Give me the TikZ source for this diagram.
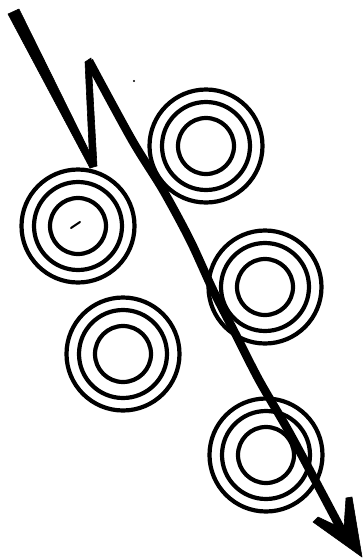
\documentclass[tikz,border=0pt]{standalone}
\begin{document}
\begin{tikzpicture}[x=1pt,y=-1pt,
  ring/.style={circle,draw=black,line width=4.2pt,inner sep=0pt,fill=none},
  bolt/.style={fill=black,draw=black,line width=0.6pt,line join=round}]
\useasboundingbox[fill=white] (0,0) rectangle (364,558);
% concentric rings
\foreach \n/\x/\y in {A/206/146, B/78/226, C/265/287, D/123/354, E/266/455}{
  \node[ring,minimum size=113pt] (\n) at (\x,\y) {};
  \node[ring,minimum size=88pt] (\n m) at (\x,\y) {};
  \node[ring,minimum size=56pt] (\n i) at (\x,\y) {};
}
% small marks
\draw[line width=2pt,line cap=round] (71,228) -- (80,222);
\fill (134,81) circle (1.1pt);
% zigzag
\coordinate (s) at (13,12);
\coordinate (k) at (93,167);
\coordinate (t) at (88,60);
\fill[bolt] (8,14) -- (19,9) -- (96,165) -- (90,168) -- cycle;
\fill[bolt] (85,62) -- (91,58) -- (97,166) -- (90,168) -- cycle;
\draw[line width=8.5pt,line cap=butt,line join=round] plot[smooth,tension=0.5] coordinates
  {(89,61) (132,140) (163,190) (190,240) (213,290) (235,333) (259,380) (288,430) (315,480) (341,529)};
\coordinate (tip) at (362,557);
\fill[bolt] (tip) -- (313,522) -- (318,517) -- (337,526) -- (335,516) -- (344,527) -- (346,498) -- (352,497) -- cycle;
\end{tikzpicture}
\end{document}
